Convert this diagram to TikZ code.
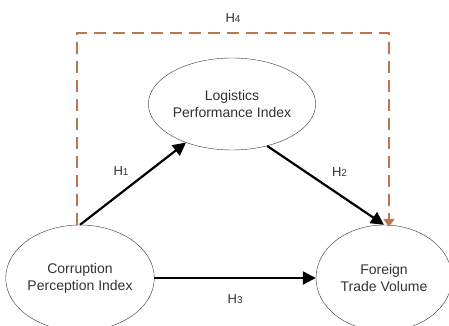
\documentclass[tikz,border=0pt]{standalone}
\usepackage{fontspec}
\setmainfont{Liberation Sans}
\usepackage{xcolor}
\usetikzlibrary{shapes.geometric,arrows.meta,positioning,calc}

\definecolor{hfour}{RGB}{190,118,78}
\definecolor{txt}{RGB}{50,50,50}
\newcommand{\hyp}[1]{H{\fontsize{10}{10}\selectfont #1}}

\tikzset{
  construct/.style={ellipse, draw=black!80, thin, inner sep=0pt, align=center,
    text=txt, font=\fontsize{14}{17}\selectfont},
  effect/.style={line width=2.2pt, -{Triangle[length=13pt,width=13pt]}},
  hlabel/.style={text=txt, font=\fontsize{13}{13}\selectfont}
}

\begin{document}
\begin{tikzpicture}[x=1pt, y=1pt]
\useasboundingbox (0,0) rectangle (449,326);
\node[construct, minimum width=142, minimum height=92] (lpi) at (232,222) {Logistics\\Performance Index};
\node[construct, minimum width=140, minimum height=106] (cpi) at (80,48) {Corruption\\Perception Index};
\node[construct, minimum width=136, minimum height=106] (ftv) at (384,48) {Foreign\\Trade Volume};

% indirect effect H4
\coordinate (dstart) at ($(cpi.north)+(-3,0)$);
\coordinate (dend) at ($(ftv.north)+(5,-2)$);
\draw[hfour, line width=2pt, dash pattern=on 12pt off 7pt, -{Triangle[length=8pt,width=11pt]}]
  (dstart) -- (dstart |- 0,293) -- node[hlabel, above=6pt] {\hyp{4}} (dend |- 0,293) -- (dend);

\draw[effect] (cpi.north) -- node[hlabel, above left=4pt and 0pt] {\hyp{1}} (lpi.220);
\draw[effect] (lpi.310) -- node[hlabel, above right=4pt and 2pt] {\hyp{2}} (ftv.north);
\draw[effect] (cpi) -- node[hlabel, below=12pt] {\hyp{3}} (ftv);
\end{tikzpicture}
\end{document}
